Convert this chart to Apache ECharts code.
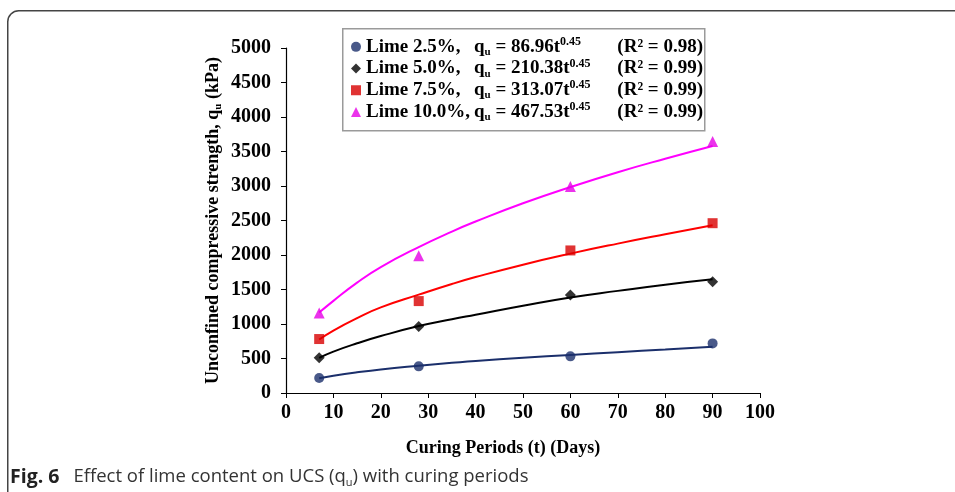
<!DOCTYPE html>
<html>
<head>
<meta charset="utf-8">
<script src="https://cdn.jsdelivr.net/npm/echarts@6/dist/echarts.min.js"></script>
<style>
html,body{margin:0;padding:0;background:#fff;}
#main{width:955px;height:492px;}
</style>
</head>
<body>
<div id="main"></div>
<script>
// ---- data ----
const seriesNames = ['Lime 2.5%', 'Lime 5.0%', 'Lime 7.5%', 'Lime 10.0%'];
const coefficients = ['86.96', '210.38', '313.07', '467.53'];
const r2Values = ['0.98', '0.99', '0.99', '0.99'];
const days = [7, 28, 60, 90];
const lime25 = [217, 386, 531, 719];
const lime50 = [512, 965, 1419, 1612];
const lime75 = [782, 1332, 2066, 2461];
const lime100 = [1158, 1988, 2992, 3644];
// fitted trend curves
const fitDays = [7, 10, 15, 20, 28, 35, 40, 50, 60, 70, 80, 90];
const fit25 = [213, 250, 300, 342, 395, 437, 465, 510, 552, 592, 630, 670];
const fit50 = [510, 600, 720, 825, 970, 1070, 1135, 1265, 1385, 1480, 1570, 1648];
const fit75 = [775, 905, 1085, 1240, 1425, 1580, 1680, 1860, 2020, 2165, 2300, 2430];
const fit100 = [1165, 1335, 1600, 1825, 2115, 2340, 2485, 2750, 2985, 3200, 3395, 3580];
const xTicks = [0, 100, 10];
const yTicks = [0, 5000, 500];

const serif = 'Liberation Serif';
const sans = 'Open Sans';
const markerColors = ['#1b2f6b', '#000000', '#d80000', '#e600e6'];
const lineColors = ['#1b2f6b', '#000000', '#ff0000', '#ff00ff'];
const symbols = ['circle', 'diamond', 'rect', 'triangle'];
const pointSets = [lime25, lime50, lime75, lime100];
const fitSets = [fit25, fit50, fit75, fit100];

const chart = echarts.init(document.getElementById('main'), null, {renderer: 'canvas'});

const series = [];
fitSets.forEach((f, i) => {
  series.push({
    type: 'line', name: seriesNames[i] + ' fit', data: fitDays.map((d, k) => [d, f[k]]),
    smooth: true, showSymbol: false, silent: true, z: 2,
    lineStyle: {color: lineColors[i], width: 2}
  });
});
pointSets.forEach((p, i) => {
  series.push({
    type: 'scatter', name: seriesNames[i], data: days.map((d, k) => [d, p[k]]),
    symbol: symbols[i], symbolSize: (i === 1 || i === 3) ? 11 : 10, z: 5,
    itemStyle: {color: markerColors[i]}
  });
});

const richBase = {fontFamily: serif, fontWeight: 'bold', color: '#000', lineHeight: 21.7};
const legendRich = {
  n: Object.assign({}, richBase, {fontSize: 19, width: 108}),
  q: Object.assign({}, richBase, {fontSize: 19}),
  s: Object.assign({}, richBase, {fontSize: 11, verticalAlign: 'bottom'}),
  e: Object.assign({}, richBase, {fontSize: 19}),
  p: Object.assign({}, richBase, {fontSize: 12, lineHeight: 12, verticalAlign: 'top'}),
  r: Object.assign({}, richBase, {fontSize: 19, align: 'right'})
};

const option = {
  backgroundColor: '#fff',
  animation: false,
  textStyle: {fontFamily: serif},
  grid: {left: 286, right: 195, top: 48, bottom: 99, containLabel: false},
  xAxis: {
    type: 'value', min: xTicks[0], max: xTicks[1], interval: xTicks[2],
    name: 'Curing Periods (t) (Days)', nameLocation: 'middle', nameGap: 46,
    nameTextStyle: {fontFamily: serif, fontWeight: 'bold', fontSize: 18, color: '#000', padding: [0, 40, 0, 0]},
    axisLine: {lineStyle: {color: '#000', width: 1.2}},
    axisTick: {length: 5, lineStyle: {color: '#000'}},
    axisLabel: {fontFamily: serif, fontWeight: 'bold', fontSize: 20, color: '#000', margin: 10},
    splitLine: {show: false}
  },
  yAxis: {
    type: 'value', min: yTicks[0], max: yTicks[1], interval: yTicks[2],
    name: 'Unconfined compressive strength, {b|q}{s|u} (kPa)', nameLocation: 'middle', nameGap: 62,
    nameRotate: 90,
    nameTextStyle: {
      fontFamily: serif, fontWeight: 'bold', fontSize: 18, color: '#000',
      rich: {
        b: {fontFamily: serif, fontWeight: 'bold', fontSize: 18, color: '#000', lineHeight: 22},
        s: {fontFamily: serif, fontWeight: 'bold', fontSize: 11, color: '#000', lineHeight: 22, verticalAlign: 'bottom'}
      }
    },
    axisLine: {show: true, lineStyle: {color: '#000', width: 1.2}},
    axisTick: {show: true, length: 5, lineStyle: {color: '#000'}},
    axisLabel: {fontFamily: serif, fontWeight: 'bold', fontSize: 20, color: '#000', margin: 15,
      formatter: function (v) { return String(v); }},
    splitLine: {show: false}
  },
  legend: {
    data: seriesNames,
    orient: 'vertical', left: 351, top: 36, padding: 0, itemGap: 0,
    itemWidth: 10, itemHeight: 10,
    selectedMode: false,
    textStyle: {fontFamily: serif, fontWeight: 'bold', fontSize: 19, color: '#000', width: 337, rich: legendRich},
    formatter: function (name) {
      const i = seriesNames.indexOf(name);
      return '{n|' + name + ',}{q|q}{s|u}{e| = ' + coefficients[i] + 't}{p|0.45}{r|(R\u00b2 = ' + r2Values[i] + ')}';
    }
  },
  graphic: [
    {type: 'rect', left: 7, top: 10, z: -10, silent: true,
     shape: {width: 1000, height: 600, r: 11},
     style: {fill: '#fff', stroke: '#444', lineWidth: 1.5}},
    {type: 'rect', left: 342, top: 28, z: 0, silent: true,
     shape: {width: 362, height: 102},
     style: {fill: '#fff', stroke: '#9a9a9a', lineWidth: 1.5}},
    {type: 'text', left: 10, top: 467, silent: true,
     style: {
       text: '{f|Fig. 6}{c|Effect of lime content on UCS (q}{cs|u}{c|) with curing periods}',
       rich: {
         f: {fontFamily: sans, fontWeight: 'bold', fontSize: 19.5, fill: '#222', lineHeight: 22, padding: [0, 14, 0, 0]},
         c: {fontFamily: sans, fontSize: 18.5, fill: '#333', lineHeight: 22},
         cs: {fontFamily: sans, fontSize: 11, fill: '#333', lineHeight: 22, verticalAlign: 'bottom'}
       }
     }}
  ],
  series: series
};
chart.setOption(option);
</script>
</body>
</html>
